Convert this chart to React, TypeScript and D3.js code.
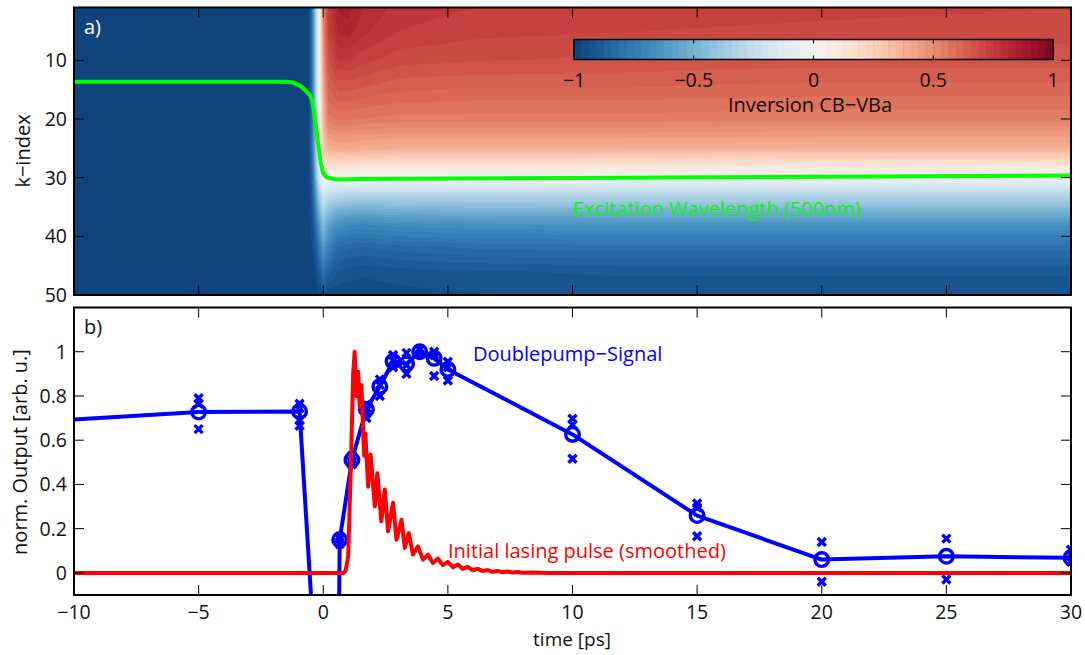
import React, { useMemo } from 'react';
import * as d3 from 'd3';

// ---------- data ----------
const timeTicks = [-10, -5, 0, 5, 10, 15, 20, 25, 30];
const kTicks = [10, 20, 30, 40, 50];
const outTicks = [0, 0.2, 0.4, 0.6, 0.8, 1];
const cbTicks = [-1, -0.5, 0, 0.5, 1];

// heatmap grid: inversion CB-VBa at (time, k-index)
const heatT = [-10, -0.6, -0.45, -0.3, -0.15, 0, 0.2, 0.6, 1.0, 1.6, 3, 6, 12, 20, 30];
const heatK = [1, 5, 10, 15, 20, 25, 28, 30, 32, 35, 38, 42, 46, 50];
const heatV = [
  [-1, -1, -1, -1, -1, -1, -1, -1, -1, -1, -1, -1, -1, -1],
  [-1, -1, -1, -1, -1, -1, -1, -1, -1, -1, -1, -1, -1, -1],
  [-0.8, -0.8, -0.8, -0.8, -0.8, -0.8, -0.85, -0.88, -0.9, -0.93, -0.95, -0.97, -1, -1],
  [-0.35, -0.35, -0.35, -0.35, -0.38, -0.4, -0.45, -0.5, -0.6, -0.7, -0.8, -0.9, -0.95, -1],
  [0.05, 0.05, 0.05, 0.03, 0.02, 0, -0.05, -0.15, -0.3, -0.45, -0.6, -0.75, -0.88, -0.97],
  [0.5, 0.5, 0.45, 0.4, 0.35, 0.25, 0.12, 0.0, -0.12, -0.3, -0.45, -0.6, -0.78, -0.95],
  [0.75, 0.73, 0.68, 0.62, 0.55, 0.38, 0.16, 0.0, -0.18, -0.4, -0.57, -0.72, -0.86, -0.96],
  [0.85, 0.82, 0.75, 0.66, 0.57, 0.4, 0.16, 0.0, -0.2, -0.46, -0.66, -0.82, -0.91, -0.96],
  [0.86, 0.83, 0.75, 0.66, 0.57, 0.4, 0.15, 0.0, -0.2, -0.48, -0.68, -0.84, -0.92, -0.96],
  [0.81, 0.79, 0.73, 0.65, 0.56, 0.39, 0.14, -0.01, -0.2, -0.48, -0.69, -0.85, -0.93, -0.96],
  [0.77, 0.75, 0.7, 0.63, 0.55, 0.38, 0.13, -0.02, -0.21, -0.47, -0.67, -0.83, -0.92, -0.95],
  [0.75, 0.73, 0.69, 0.62, 0.55, 0.38, 0.13, -0.02, -0.21, -0.46, -0.66, -0.81, -0.91, -0.94],
  [0.74, 0.72, 0.68, 0.62, 0.55, 0.38, 0.13, -0.03, -0.22, -0.45, -0.65, -0.8, -0.9, -0.93],
  [0.73, 0.71, 0.67, 0.61, 0.54, 0.37, 0.12, -0.03, -0.22, -0.45, -0.65, -0.8, -0.9, -0.93],
  [0.72, 0.7, 0.67, 0.61, 0.54, 0.37, 0.12, -0.04, -0.22, -0.45, -0.65, -0.8, -0.9, -0.93],
];

// excitation wavelength (500nm) k-index over time
const exciteT = [-10, -1.5, -1.2, -0.94, -0.75, -0.54, -0.45, -0.38, -0.3, -0.2, -0.1, 0, 0.15, 0.5, 1.5, 5, 10, 20, 30];
const exciteK = [13.65, 13.65, 13.8, 14.3, 15.0, 15.9, 16.9, 18.5, 21.0, 24.5, 27.5, 29.3, 30.0, 30.3, 30.25, 30.15, 30.05, 29.85, 29.65];

// Doublepump-Signal (mean values)
const sigT = [-15, -5, -0.95, 0.5, 0.66, 1.15, 1.73, 2.27, 2.8, 3.34, 3.87, 4.45, 5.0, 10, 15, 20, 25, 30];
const sigV = [0.66, 0.727, 0.73, -1.9, 0.15, 0.51, 0.74, 0.843, 0.957, 0.945, 1.0, 0.97, 0.92, 0.626, 0.259, 0.06, 0.075, 0.068];

// individual measurements
const crossT = [-5, -5, -5, -0.95, -0.95, -0.95, -0.95, 0.66, 0.66, 0.66, 1.15, 1.15, 1.15, 1.73, 1.73, 1.73,
  2.27, 2.27, 2.27, 2.8, 2.8, 2.8, 3.34, 3.34, 3.34, 3.87, 3.87, 4.45, 4.45, 4.45, 5.0, 5.0, 5.0,
  10, 10, 10, 15, 15, 15, 20, 20, 25, 25, 30, 30, 30];
const crossV = [0.79, 0.765, 0.65, 0.765, 0.745, 0.69, 0.665, 0.165, 0.13, 0.155, 0.53, 0.49, 0.5, 0.76, 0.7, 0.72,
  0.875, 0.8, 0.85, 0.985, 0.93, 0.96, 0.995, 0.9, 0.94, 1.01, 0.99, 1.0, 0.89, 0.985, 0.955, 0.87, 0.93,
  0.697, 0.516, 0.67, 0.314, 0.295, 0.166, 0.14, -0.04, 0.155, -0.03, 0.105, 0.05, 0.085];

// Initial lasing pulse (smoothed)
const pulseT = [-10, 0.8, 0.9, 1.0, 1.1, 1.2, 1.26, 1.33, 1.4, 1.46, 1.53, 1.64, 1.69, 1.8, 1.9, 2.07, 2.17, 2.33, 2.47,
  2.6, 2.8, 2.94, 3.14, 3.27, 3.43, 3.6, 3.8, 4.0, 4.2, 4.4, 4.6, 4.8, 5.0, 5.2, 5.4, 5.6, 5.8, 6.0, 6.2, 6.4,
  6.6, 6.8, 7.0, 7.2, 7.4, 7.6, 7.8, 8.0, 8.4, 9, 30];
const pulseV = [0, 0, 0.01, 0.075, 0.45, 0.9, 1.0, 0.8, 0.91, 0.75, 0.85, 0.53, 0.63, 0.39, 0.535, 0.3, 0.45, 0.233, 0.377,
  0.188, 0.317, 0.15, 0.24, 0.113, 0.18, 0.083, 0.12, 0.06, 0.083, 0.045, 0.065, 0.035, 0.05, 0.026, 0.038, 0.018, 0.027, 0.012, 0.019, 0.008,
  0.013, 0.005, 0.009, 0.003, 0.006, 0.002, 0.004, 0.001, 0.002, 0, 0];

// ---------- layout ----------
const W = 1085, H = 655;
const X0 = 74, X1 = 1071;
const T0 = 7.5, T1 = 295;
const B0 = 307.5, B1 = 595;
const FONT = "'Open Sans', sans-serif";
const FS = 19.5;
const LFS = 20;
const TICK = 10;

const x = d3.scaleLinear().domain([-10, 30]).range([X0, X1]);
const kS = d3.scaleLinear().domain([1, 50]).range([T0, T1]);
const yS = d3.scaleLinear().domain([-0.1, 1.2]).range([B1, B0]);
const cbS = d3.scaleLinear().domain([-1, 1]).range([574, 1053]);

const NLEV = 64;
const levelColor = (lev: number) => {
  const c = -1 + (lev + 0.5) * 2 / NLEV;
  return d3.interpolateRdBu(0.5 - c * 0.47);
};
const palette = d3.range(NLEV).map(levelColor);
const levelOf = (v: number) => Math.max(0, Math.min(NLEV - 1, Math.floor((v + 1) / 2 * NLEV)));

const fmt = (v: number) => (v < 0 ? '\u2212' : '') + String(Math.abs(v));

function valueAt(t: number, k: number) {
  let i = d3.bisectRight(heatT, t) - 1;
  i = Math.max(0, Math.min(heatT.length - 2, i));
  let j = d3.bisectRight(heatK, k) - 1;
  j = Math.max(0, Math.min(heatK.length - 2, j));
  const ft = Math.max(0, Math.min(1, (t - heatT[i]) / (heatT[i + 1] - heatT[i])));
  const fk = Math.max(0, Math.min(1, (k - heatK[j]) / (heatK[j + 1] - heatK[j])));
  const a = heatV[i][j] * (1 - fk) + heatV[i][j + 1] * fk;
  const b = heatV[i + 1][j] * (1 - fk) + heatV[i + 1][j + 1] * fk;
  return a * (1 - ft) + b * ft;
}

function useHeatImage() {
  return useMemo(() => {
    const w = Math.round(X1 - X0), h = Math.round(T1 - T0);
    const canvas = document.createElement('canvas');
    canvas.width = w; canvas.height = h;
    const ctx = canvas.getContext('2d');
    if (!ctx) return '';
    const img = ctx.createImageData(w, h);
    const rgbs = palette.map(c => d3.rgb(c));
    for (let px = 0; px < w; px++) {
      const t = x.invert(X0 + (px + 0.5) * (X1 - X0) / w);
      for (let py = 0; py < h; py++) {
        const k = kS.invert(T0 + (py + 0.5) * (T1 - T0) / h);
        const c = rgbs[levelOf(valueAt(t, k))];
        const idx = (py * w + px) * 4;
        img.data[idx] = c.r; img.data[idx + 1] = c.g; img.data[idx + 2] = c.b; img.data[idx + 3] = 255;
      }
    }
    ctx.putImageData(img, 0, 0);
    return canvas.toDataURL();
  }, []);
}

const Cross = ({ cx, cy }: { cx: number; cy: number }) => {
  const s = 4;
  return (
    <path d={`M${cx - s},${cy - s}L${cx + s},${cy + s}M${cx - s},${cy + s}L${cx + s},${cy - s}`}
      stroke="#0000ff" strokeWidth={3.4} fill="none" />
  );
};

export default function App() {
  const href = useHeatImage();
  const exciteLine = d3.line<number>().x(i => x(exciteT[i])).y(i => kS(exciteK[i]))(exciteT.map((_, i) => i)) || '';
  const sigLine = d3.line<number>().x(i => x(sigT[i])).y(i => yS(sigV[i]))(sigT.map((_, i) => i)) || '';
  const pulseLine = d3.line<number>().x(i => x(pulseT[i])).y(i => yS(pulseV[i]))(pulseT.map((_, i) => i)) || '';

  const xTickMarks = (top: number, bottom: number) => timeTicks.map(t => (
    <g key={`xt${top}${t}`}>
      <line x1={x(t)} x2={x(t)} y1={bottom} y2={bottom - TICK} stroke="#000" strokeWidth={1} />
      <line x1={x(t)} x2={x(t)} y1={top} y2={top + TICK} stroke="#000" strokeWidth={1} />
    </g>
  ));

  return (
    <svg width={W} height={H} style={{ position: 'absolute', left: 0, top: 0, background: '#fff' }}
      fontFamily={FONT}>
      <defs>
        <clipPath id="clipTop"><rect x={X0} y={T0} width={X1 - X0} height={T1 - T0} /></clipPath>
        <clipPath id="clipBot"><rect x={X0} y={B0} width={X1 - X0} height={B1 - B0} /></clipPath>
      </defs>

      {/* ---------- panel a ---------- */}
      <image href={href} x={X0} y={T0} width={X1 - X0} height={T1 - T0} preserveAspectRatio="none" />
      <g clipPath="url(#clipTop)">
        <path d={exciteLine} fill="none" stroke="#00ff00" strokeWidth={4} strokeLinejoin="round" />
      </g>
      {xTickMarks(T0, T1)}
      {kTicks.map(k => (
        <g key={`kt${k}`}>
          <line x1={X0} x2={X0 + TICK} y1={kS(k)} y2={kS(k)} stroke="#000" />
          <line x1={X1} x2={X1 - TICK} y1={kS(k)} y2={kS(k)} stroke="#000" />
          <text x={X0 - 7} y={kS(k)} dy="0.36em" textAnchor="end" fontSize={FS} fill="#111">{k}</text>
        </g>
      ))}
      <rect x={X0} y={T0} width={X1 - X0} height={T1 - T0} fill="none" stroke="#000" strokeWidth={2} />
      <text x={84} y={34} fontSize={LFS} fill="#fff">a)</text>
      <text transform={`translate(30,151) rotate(-90)`} textAnchor="middle" fontSize={LFS} fill="#111">k−index</text>

      {/* colorbar */}
      {palette.map((c, i) => {
        const v0 = -1 + i * 2 / NLEV, v1 = -1 + (i + 1) * 2 / NLEV;
        return <rect key={`cb${i}`} x={cbS(v0)} y={39.5} width={cbS(v1) - cbS(v0) + 0.4} height={20} fill={c} />;
      })}
      {cbTicks.map(v => (
        <g key={`cbt${v}`}>
          <line x1={cbS(v)} x2={cbS(v)} y1={39.5} y2={43.5} stroke="#000" />
          <line x1={cbS(v)} x2={cbS(v)} y1={59.5} y2={55.5} stroke="#000" />
          <text x={cbS(v)} y={87} textAnchor="middle" fontSize={FS} fill="#111">{fmt(v)}</text>
        </g>
      ))}
      <rect x={574} y={39.5} width={1053 - 574} height={20} fill="none" stroke="#000" strokeWidth={1.5} />
      <text x={810} y={112} textAnchor="middle" fontSize={LFS} fill="#111">Inversion CB−VBa</text>
      <text x={573} y={216} fontSize={LFS} fill="#14f014">Excitation Wavelength (500nm)</text>

      {/* ---------- panel b ---------- */}
      <rect x={X0} y={B0} width={X1 - X0} height={B1 - B0} fill="#fff" />
      <g clipPath="url(#clipBot)">
        <path d={sigLine} fill="none" stroke="#0000ff" strokeWidth={4} strokeLinejoin="round" />
        {sigT.map((t, i) => (
          <circle key={`c${i}`} cx={x(t)} cy={yS(sigV[i])} r={6.8} fill="none" stroke="#0000ff" strokeWidth={3.4} />
        ))}
        {crossT.map((t, i) => <Cross key={`x${i}`} cx={x(t)} cy={yS(crossV[i])} />)}
        <path d={pulseLine} fill="none" stroke="#ff0000" strokeWidth={4} strokeLinejoin="round" />
      </g>
      {xTickMarks(B0, B1)}
      {outTicks.map(v => (
        <g key={`yt${v}`}>
          <line x1={X0} x2={X0 + TICK} y1={yS(v)} y2={yS(v)} stroke="#000" />
          <line x1={X1} x2={X1 - TICK} y1={yS(v)} y2={yS(v)} stroke="#000" />
          <text x={X0 - 7} y={yS(v)} dy="0.36em" textAnchor="end" fontSize={FS} fill="#111">{fmt(v)}</text>
        </g>
      ))}
      {timeTicks.map(t => (
        <text key={`xl${t}`} x={x(t)} y={619} textAnchor="middle" fontSize={FS} fill="#111">{fmt(t)}</text>
      ))}
      <rect x={X0} y={B0} width={X1 - X0} height={B1 - B0} fill="none" stroke="#000" strokeWidth={2} />
      <text x={84} y={334} fontSize={LFS} fill="#111">b)</text>
      <text transform={`translate(27,452) rotate(-90)`} textAnchor="middle" fontSize={LFS} fill="#111">norm. Output [arb. u.]</text>
      <text x={572} y={646} textAnchor="middle" fontSize={19} fill="#111">time [ps]</text>
      <text x={473} y={361} fontSize={LFS} fill="#0000ff">Doublepump−Signal</text>
      <text x={448} y={558} fontSize={LFS} fill="#ff0000">Initial lasing pulse (smoothed)</text>
    </svg>
  );
}
